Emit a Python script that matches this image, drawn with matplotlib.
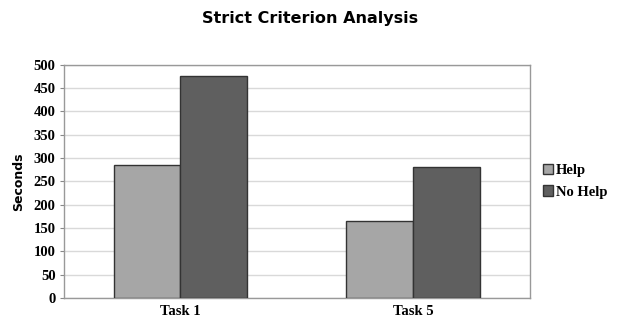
import matplotlib
matplotlib.use("Agg")
import matplotlib.pyplot as plt
import numpy as np

# Data
tasks = ["Task 1", "Task 5"]
help_secs = [285, 166]
nohelp_secs = [476, 280]
series_labels = ["Help", "No Help"]

HELP_COLOR = "#a6a6a6"
NOHELP_COLOR = "#5f5f5f"

fig = plt.figure(figsize=(6.21, 3.31), dpi=100)
ax = fig.add_axes([0.103, 0.1, 0.75, 0.704])

x = np.arange(len(tasks))
w = 0.287
ax.bar(x - w / 2, help_secs, width=w, color=HELP_COLOR, edgecolor="#333333",
       linewidth=1.0, label=series_labels[0], zorder=3)
ax.bar(x + w / 2, nohelp_secs, width=w, color=NOHELP_COLOR, edgecolor="#333333",
       linewidth=1.0, label=series_labels[1], zorder=3)

ax.set_xlim(-0.5, 1.5)
ax.set_ylim(0, 500)
ax.set_yticks(np.arange(0, 501, 50))
ax.set_xticks(x)
ax.set_xticklabels(tasks)
ax.yaxis.grid(True, color="#d9d9d9", linewidth=1.0, zorder=0)
ax.tick_params(axis="x", length=0, pad=5)
ax.tick_params(axis="y", length=3, color="#888888", pad=3)
for lbl in ax.get_xticklabels() + ax.get_yticklabels():
    lbl.set_fontfamily("Liberation Serif")
    lbl.set_fontweight("bold")
    lbl.set_fontsize(10.5)
for side in ["top", "right", "left", "bottom"]:
    ax.spines[side].set_color("#999999")
    ax.spines[side].set_linewidth(1.0)

ax.set_ylabel("Seconds", fontsize=9, fontweight="bold", fontfamily="DejaVu Sans", labelpad=6)
fig.text(0.5, 0.945, "Strict Criterion Analysis", ha="center", va="center",
         fontsize=11.5, fontweight="bold", fontfamily="DejaVu Sans")

leg = ax.legend(loc="center left", bbox_to_anchor=(1.0, 0.5), frameon=False,
                prop={"family": "Liberation Serif", "weight": "bold", "size": 10.5},
                handlelength=0.7, handleheight=0.7, handletextpad=0.2, labelspacing=0.55)

fig.savefig("out.png", dpi=100)
